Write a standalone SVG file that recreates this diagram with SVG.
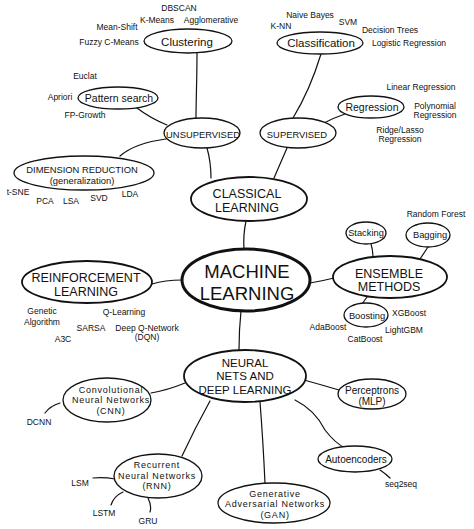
<svg xmlns="http://www.w3.org/2000/svg" width="474" height="529" viewBox="0 0 474 529">
<style>
text{font-family:"Liberation Sans",Arial,sans-serif;fill:#111;text-anchor:middle;dominant-baseline:central}
.s{font-size:8.5px}
.n{font-size:10.5px}
.t{font-size:9px;letter-spacing:0.75px}
.m{font-size:11.5px}
.u{font-size:9.4px}
.b{font-size:12.5px}
.x{font-size:18.5px}
ellipse{fill:#fff;stroke:#111;stroke-width:1.3}
.e2{stroke-width:1.8}
.e3{stroke-width:3}
#connectors path{fill:none;stroke:#111;stroke-width:1.2;stroke-linecap:round}
</style>
<rect width="474" height="529" fill="#fff"/>
<g id="connectors">
<path d="M197,53 C197,80 196,100 196,118"/>
<path d="M137,108 Q150,118 167,125"/>
<path d="M166,139 Q135,143 120,156"/>
<path d="M207,148 Q211,162 211,178"/>
<path d="M321,54 Q310,90 293,118"/>
<path d="M345,114 Q333,118 322,124"/>
<path d="M287,148 L274,178"/>
<path d="M246,221 Q243,235 244,249"/>
<path d="M152,284 Q165,280 182,280"/>
<path d="M310,283 Q322,281 334,278"/>
<path d="M371,244 Q373,250 373,258"/>
<path d="M428,247 L420,259"/>
<path d="M367,297 L362,304"/>
<path d="M241,311 Q239,330 239,350"/>
<path d="M185,383 Q168,390 151,393"/>
<path d="M304,380 Q322,385 339,390"/>
<path d="M295,400 Q315,410 325,430 Q335,443 345,448"/>
<path d="M210,401 Q195,428 182,456"/>
<path d="M260,402 Q263,440 265,483"/>
<path d="M380,470 Q386,474 390,478"/>
<path d="M45,413 Q50,406 60,403"/>
<path d="M93,478 Q104,477 115,479"/>
<path d="M111,505 Q114,496 123,492"/>
<path d="M150,512 Q152,506 148,498"/>
</g>
<g id="clustering">
<ellipse cx="188" cy="41" rx="44" ry="12"/>
<text class="m" x="187" y="42">Clustering</text>
<text class="s" x="179" y="8">DBSCAN</text>
<text class="s" x="157" y="20">K-Means</text>
<text class="s" x="211" y="20">Agglomerative</text>
<text class="s" x="117" y="27">Mean-Shift</text>
<text class="s" x="109" y="42">Fuzzy C-Means</text>
</g>
<g id="classification">
<ellipse cx="320" cy="43" rx="43" ry="11"/>
<text class="m" x="321" y="43">Classification</text>
<text class="s" x="310" y="15">Naive Bayes</text>
<text class="s" x="281" y="26">K-NN</text>
<text class="s" x="348" y="22">SVM</text>
<text class="s" x="390" y="30">Decision Trees</text>
<text class="s" x="409" y="43">Logistic Regression</text>
</g>
<g id="pattern-search">
<ellipse cx="118" cy="98" rx="40" ry="11"/>
<text class="n" x="119" y="98">Pattern search</text>
<text class="s" x="85" y="76">Euclat</text>
<text class="s" x="60" y="97">Apriori</text>
<text class="s" x="85" y="115">FP-Growth</text>
</g>
<g id="regression">
<ellipse cx="371" cy="107" rx="33" ry="11"/>
<text class="n" x="372" y="107">Regression</text>
<text class="s" x="421" y="87">Linear Regression</text>
<text class="s" x="435" y="106">Polynomial</text>
<text class="s" x="435" y="115">Regression</text>
<text class="s" x="400" y="130">Ridge/Lasso</text>
<text class="s" x="400" y="139">Regression</text>
</g>
<g id="unsupervised">
<ellipse cx="202" cy="133" rx="38" ry="15"/>
<text class="u" x="203" y="134">UNSUPERVISED</text>
</g>
<g id="supervised">
<ellipse cx="298" cy="133" rx="38" ry="15"/>
<text class="u" x="297" y="134">SUPERVISED</text>
</g>
<g id="dimension-reduction">
<ellipse cx="84" cy="173" rx="70" ry="17"/>
<text class="u" x="82" y="169">DIMENSION REDUCTION</text>
<text class="u" x="82" y="180.5">(generalization)</text>
<text class="s" x="18" y="192">t-SNE</text>
<text class="s" x="45" y="201">PCA</text>
<text class="s" x="71" y="201">LSA</text>
<text class="s" x="99" y="198">SVD</text>
<text class="s" x="130" y="194">LDA</text>
</g>
<g id="classical-learning">
<ellipse class="e2" cx="249" cy="199" rx="58" ry="22"/>
<text class="b" x="247" y="194">CLASSICAL</text>
<text class="b" x="247" y="208">LEARNING</text>
</g>
<g id="machine-learning">
<ellipse class="e3" cx="246" cy="280" rx="64" ry="31"/>
<text class="x" x="247" y="271">MACHINE</text>
<text class="x" x="247" y="293">LEARNING</text>
</g>
<g id="ensemble-methods">
<ellipse class="e2" cx="390" cy="277" rx="57" ry="21"/>
<text class="b" x="389" y="273.5">ENSEMBLE</text>
<text class="b" x="389" y="287">METHODS</text>
</g>
<g id="stacking">
<ellipse cx="366" cy="233" rx="20" ry="11"/>
<text class="s" x="366" y="233" style="font-size:9.3px">Stacking</text>
</g>
<g id="bagging">
<ellipse cx="428" cy="235" rx="22" ry="12"/>
<text class="s" x="430" y="235" style="font-size:9.3px">Bagging</text>
<text class="s" x="436" y="214">Random Forest</text>
</g>
<g id="boosting">
<ellipse cx="366" cy="315" rx="22" ry="12"/>
<text class="s" x="367" y="316" style="font-size:9.3px">Boosting</text>
<text class="s" x="409" y="313">XGBoost</text>
<text class="s" x="328" y="327">AdaBoost</text>
<text class="s" x="404" y="330">LightGBM</text>
<text class="s" x="365" y="339">CatBoost</text>
</g>
<g id="reinforcement-learning">
<ellipse class="e2" cx="87" cy="282" rx="65" ry="21"/>
<text class="b" x="86" y="278">REINFORCEMENT</text>
<text class="b" x="86" y="292">LEARNING</text>
<text class="s" x="42" y="311">Genetic</text>
<text class="s" x="42" y="322">Algorithm</text>
<text class="s" x="124" y="312">Q-Learning</text>
<text class="s" x="91" y="328">SARSA</text>
<text class="s" x="147" y="328">Deep Q-Network</text>
<text class="s" x="147" y="337">(DQN)</text>
<text class="s" x="63" y="339">A3C</text>
</g>
<g id="neural-nets">
<ellipse class="e2" cx="245" cy="376" rx="61" ry="26"/>
<text class="b" x="245" y="363" style="font-size:11.5px">NEURAL</text>
<text class="b" x="245" y="376" style="font-size:11.5px">NETS AND</text>
<text class="b" x="245" y="390" style="font-size:11.5px">DEEP LEARNING</text>
</g>
<g id="cnn">
<ellipse cx="107" cy="400" rx="44" ry="22"/>
<text class="t" x="111" y="389.5">Convolutional</text>
<text class="t" x="111" y="400">Neural Networks</text>
<text class="t" x="111" y="410.5">(CNN)</text>
<text class="s" x="39" y="422">DCNN</text>
</g>
<g id="perceptrons">
<ellipse cx="372" cy="394" rx="34" ry="15"/>
<text class="n" x="372" y="390" style="font-size:10px">Perceptrons</text>
<text class="n" x="372" y="401.5" style="font-size:10px">(MLP)</text>
</g>
<g id="autoencoders">
<ellipse cx="355" cy="459" rx="37" ry="13"/>
<text class="n" x="356" y="459" style="font-size:10px">Autoencoders</text>
<text class="s" x="401" y="484">seq2seq</text>
</g>
<g id="rnn">
<ellipse cx="158" cy="476" rx="44" ry="22"/>
<text class="t" x="157" y="465">Recurrent</text>
<text class="t" x="157" y="475.5">Neural Networks</text>
<text class="t" x="157" y="486">(RNN)</text>
<text class="s" x="80" y="483">LSM</text>
<text class="s" x="104" y="513">LSTM</text>
<text class="s" x="148" y="521">GRU</text>
</g>
<g id="gan">
<ellipse cx="274" cy="503" rx="56" ry="20"/>
<text class="t" x="275" y="493.5">Generative</text>
<text class="t" x="275" y="504">Adversarial Networks</text>
<text class="t" x="275" y="514.5">(GAN)</text>
</g>
</svg>
